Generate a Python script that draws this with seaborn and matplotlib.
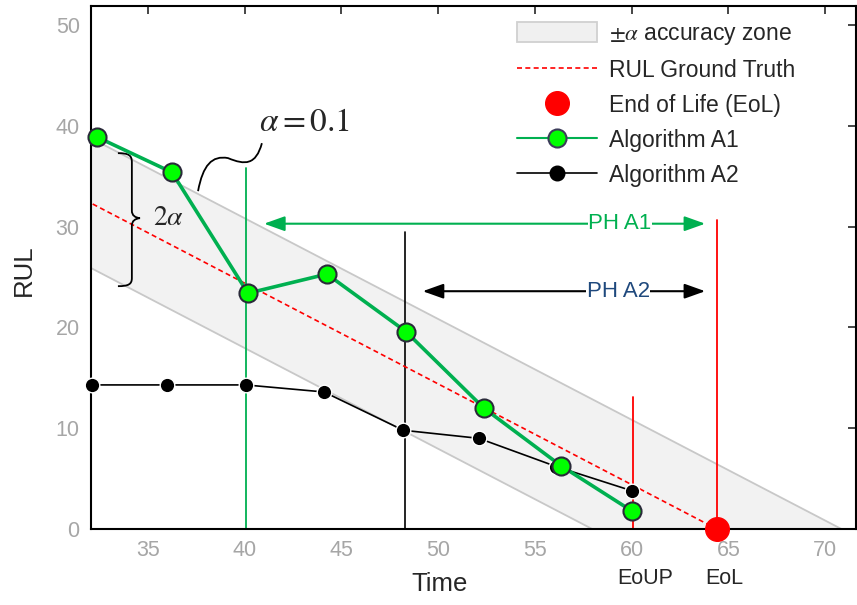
import matplotlib
matplotlib.use("Agg")
import matplotlib.pyplot as plt
from matplotlib.path import Path
from matplotlib.patches import PathPatch, Patch
from matplotlib.lines import Line2D
import seaborn as sns
import numpy as np

# data
a1_time = [32.37, 36.24, 40.17, 44.25, 48.33, 52.36, 56.33, 60.0]
a1_rul = [38.9, 35.4, 23.4, 25.3, 19.6, 12.0, 6.3, 1.8]
a2_time = [32.1, 36.0, 40.05, 44.1, 48.2, 52.1, 56.1, 60.0]
a2_rul = [14.3, 14.3, 14.3, 13.6, 9.8, 9.0, 6.2, 3.8]
eol = 64.4
eoup = 60.05
alpha = 0.1
ph_a1_start = 40.05
ph_a2_start = 48.3
x_ticks = [35, 40, 45, 50, 55, 60, 65, 70]
y_ticks = [0, 10, 20, 30, 40, 50]

sns.set_style("white")
plt.rcParams['font.family'] = ['Liberation Sans', 'DejaVu Sans']
plt.rcParams['mathtext.fontset'] = 'stix'

fig = plt.figure(figsize=(8.57, 6.05), dpi=100)
ax = fig.add_axes([0.106, 0.1256, 0.893, 0.8644])

# accuracy zone (+/- alpha * EoL around ground truth)
t = np.array([31.0, 73.0])
gt = eol - t
half = alpha * eol
ax.fill_between(t, gt - half, gt + half, color='#f2f2f2', lw=0, zorder=1)
ax.plot(t, gt + half, color='#c8c8c8', lw=1.3, zorder=1.5)
ax.plot(t, gt - half, color='#c8c8c8', lw=1.3, zorder=1.5)

# ground truth
ax.plot([31.0, eol], [eol - 31.0, 0], color='red', ls=(0, (3, 2)), lw=1.2, zorder=3)

# vertical markers
ax.plot([ph_a1_start, ph_a1_start], [0, 35.8], color='#00b050', lw=1.3, zorder=2)
ax.plot([ph_a2_start, ph_a2_start], [0, 29.5], color='black', lw=1.2, zorder=2)
ax.plot([eoup, eoup], [0, 13.1], color='red', lw=1.3, zorder=2)
ax.plot([eol, eol], [0, 30.7], color='red', lw=1.3, zorder=2)

# algorithms
sns.lineplot(x=a2_time, y=a2_rul, ax=ax, sort=False, color='black', lw=1.2,
             marker='o', markersize=10.5, markerfacecolor='black',
             markeredgecolor='white', markeredgewidth=1.0, zorder=5, clip_on=False)
sns.lineplot(x=a1_time, y=a1_rul, ax=ax, sort=False, color='#00b050', lw=2.6,
             marker='o', markersize=13, markerfacecolor='#00ff00',
             markeredgecolor='#2a2a3a', markeredgewidth=1.5, zorder=6, clip_on=False)

# end of life point
ax.plot([eol], [0], 'o', color='red', markersize=17, zorder=7, clip_on=False)

# prognostic horizons
arrow_kw = dict(arrowstyle='<|-|>,head_length=0.7,head_width=0.25', mutation_scale=18, lw=1.5,
                shrinkA=0, shrinkB=0)
ax.annotate('', xy=(41.0, 30.3), xytext=(63.8, 30.3),
            arrowprops=dict(color='#00b050', **arrow_kw), zorder=4)
ax.text(59.4, 30.3, 'PH A1', color='#00b050', fontsize=16, ha='center', va='center',
        bbox=dict(fc='white', ec='none', pad=0.5), zorder=4)
ax.annotate('', xy=(49.2, 23.6), xytext=(63.8, 23.6),
            arrowprops=dict(color='black', **arrow_kw), zorder=4)
ax.text(59.3, 23.6, 'PH A2', color='#1f497d', fontsize=16, ha='center', va='center',
        bbox=dict(fc='white', ec='none', pad=0.5), zorder=4)

# alpha annotation with squiggle
squig = Path([(37.59, 33.53), (37.84, 36.11), (38.31, 37.10), (39.14, 36.81),
              (40.02, 36.11), (40.58, 36.11), (40.89, 38.29)],
             [Path.MOVETO, Path.CURVE4, Path.CURVE4, Path.CURVE4,
              Path.CURVE4, Path.CURVE4, Path.CURVE4])
ax.add_patch(PathPatch(squig, fc='none', ec='black', lw=1.3, zorder=4))
ax.text(43.1, 40.3, r'$\alpha = 0.1$', fontsize=24, ha='center', va='center')

# 2 alpha brace
brace = Path([(33.45, 37.3), (34.0, 37.3), (34.17, 37.1), (34.17, 36.4),
              (34.17, 31.6),
              (34.17, 31.1), (34.35, 30.9), (34.59, 30.85),
              (34.35, 30.8), (34.17, 30.6), (34.17, 30.1),
              (34.17, 24.9),
              (34.17, 24.3), (34.0, 24.1), (33.45, 24.1)],
             [Path.MOVETO, Path.CURVE4, Path.CURVE4, Path.CURVE4,
              Path.LINETO,
              Path.CURVE4, Path.CURVE4, Path.CURVE4,
              Path.CURVE4, Path.CURVE4, Path.CURVE4,
              Path.LINETO,
              Path.CURVE4, Path.CURVE4, Path.CURVE4])
ax.add_patch(PathPatch(brace, fc='none', ec='black', lw=1.3, zorder=4))
ax.text(36.05, 30.9, r'$2\alpha$', fontsize=20, ha='center', va='center')

# axes styling
ax.set_xlim(32.05, 71.6)
ax.set_ylim(0, 51.9)
ax.set_xticks(x_ticks)
ax.set_yticks(y_ticks)
for s in ax.spines.values():
    s.set_linewidth(1.5)
    s.set_color('black')
    s.set_zorder(4.5)
ax.tick_params(direction='in', length=6, width=1.2, top=True, right=True,
               labelsize=15.5, labelcolor='#a6a6a6', pad=8)
ax.set_xlabel('Time', fontsize=18.5)
ax.xaxis.set_label_coords(0.456, -0.082)
ax.set_ylabel('RUL', fontsize=18.5)
ax.yaxis.set_label_coords(-0.072, 0.495)

ax.text(60.7, -4.9, 'EoUP', fontsize=15.5, ha='center', va='center', clip_on=False)
ax.text(64.8, -4.9, 'EoL', fontsize=15.5, ha='center', va='center', clip_on=False)

# legend
handles = [
    Patch(fc='#f0f0f0', ec='#d0d0d0', lw=1.3),
    Line2D([], [], color='red', ls=(0, (3, 2)), lw=1.2),
    Line2D([], [], color='red', marker='o', ls='none', markersize=17),
    Line2D([], [], color='#00b050', lw=1.5, marker='o', markersize=13,
           markerfacecolor='#00ff00', markeredgecolor='#3c3c5a', markeredgewidth=1.5),
    Line2D([], [], color='black', lw=1.2, marker='o', markersize=10.5,
           markerfacecolor='black', markeredgecolor='black'),
]
labels = [r'$\pm\alpha$ accuracy zone', 'RUL Ground Truth', 'End of Life (EoL)',
          'Algorithm A1', 'Algorithm A2']
ax.legend(handles, labels, loc='upper left', bbox_to_anchor=(0.557, 0.97),
          frameon=False, fontsize=16.5, borderpad=0, borderaxespad=0,
          handlelength=3.5, handleheight=1.0, handletextpad=0.5, labelspacing=0.52)

fig.savefig('out.png', dpi=100)
